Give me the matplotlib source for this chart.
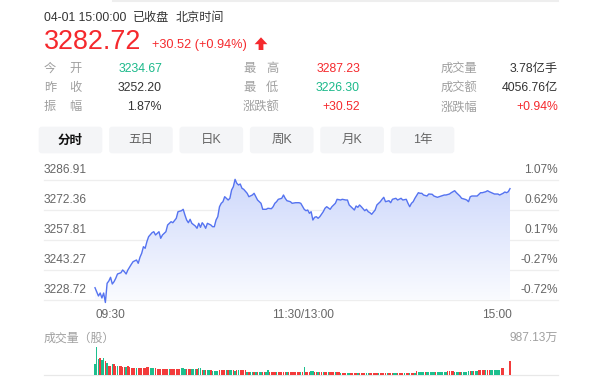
import matplotlib
matplotlib.use('Agg')
import matplotlib.pyplot as plt
import numpy as np
from matplotlib.patches import FancyBboxPatch, Polygon
from matplotlib.transforms import IdentityTransform

plt.rcParams['font.family'] = ['Liberation Sans', 'Noto Sans CJK SC', 'DejaVu Sans']

# ---------------- data ----------------
price_ticks = [3286.91, 3272.36, 3257.81, 3243.27, 3228.72]
pct_ticks = ['1.07%', '0.62%', '0.17%', '-0.27%', '-0.72%']
time_labels = ['09:30', '11:30/13:00', '15:00']
tabs = ['分时', '五日', '日K', '周K', '月K', '1年']

minute_idx = [0, 2, 3, 4, 5, 6, 7, 8, 9, 10, 11, 12, 13, 15, 16, 17, 18, 19, 21, 22,
              24, 25, 26, 27, 28, 29, 30, 31, 33, 34, 35, 37, 38, 39, 41, 42, 44, 45, 47, 48,
              50, 51, 52, 53, 54, 55, 56, 58, 59, 60, 61, 62, 63, 64, 65, 67, 68, 69, 70, 71,
              72, 73, 74, 75, 76, 77, 78, 79, 80, 81, 82, 83, 84, 85, 86, 88, 89, 91, 92, 93,
              94, 95, 96, 97, 99, 100, 102, 103, 104, 105, 106, 108, 109, 110, 111, 113, 114, 116, 118, 119,
              121, 122, 123, 124, 125, 126, 127, 128, 129, 130, 132, 133, 134, 136, 137, 139, 140, 142, 143, 145,
              146, 147, 148, 150, 151, 152, 153, 154, 156, 157, 158, 159, 160, 162, 163, 165, 166, 167, 168, 170,
              171, 172, 174, 175, 177, 178, 180, 181, 182, 183, 184, 185, 187, 188, 189, 190, 192, 193, 195, 196,
              198, 199, 200, 202, 203, 205, 206, 208, 209, 211, 212, 214, 215, 216, 217, 218, 220, 221, 223, 224,
              226, 227, 228, 230, 231, 233, 234, 236, 237, 238, 239, 240]
prices = [3234.67, 3230.66, 3232.11, 3229.69, 3232.11, 3227.50, 3236.82, 3237.93, 3239.73, 3236.48,
          3237.59, 3239.24, 3241.33, 3241.96, 3243.27, 3242.44, 3241.33, 3243.27, 3246.03, 3247.29,
          3248.12, 3246.52, 3249.43, 3251.37, 3254.57, 3253.79, 3256.99, 3259.42, 3261.36, 3261.84,
          3260.24, 3261.84, 3258.64, 3260.24, 3261.84, 3265.09, 3266.69, 3266.20, 3268.34, 3271.54,
          3272.02, 3272.70, 3269.94, 3267.51, 3266.20, 3267.85, 3265.91, 3264.60, 3263.49, 3265.91,
          3263.97, 3266.20, 3265.09, 3263.49, 3265.91, 3265.09, 3264.26, 3264.26, 3267.51, 3269.11,
          3273.96, 3275.61, 3276.39, 3278.81, 3278.04, 3277.21, 3278.04, 3282.06, 3283.66, 3287.23,
          3285.31, 3284.49, 3284.97, 3282.89, 3282.40, 3280.46, 3278.81, 3279.64, 3280.46, 3278.81,
          3277.21, 3276.39, 3275.61, 3272.70, 3272.70, 3273.19, 3272.99, 3273.96, 3275.61, 3276.39,
          3277.55, 3278.04, 3279.64, 3278.04, 3276.87, 3276.39, 3275.61, 3275.90, 3275.90, 3275.61,
          3272.70, 3272.02, 3272.36, 3270.76, 3271.54, 3267.51, 3268.82, 3269.11, 3268.34, 3269.11,
          3271.54, 3273.19, 3273.96, 3272.70, 3273.96, 3275.61, 3277.55, 3277.21, 3277.55, 3277.21,
          3277.21, 3274.79, 3273.96, 3272.36, 3274.30, 3273.67, 3274.79, 3273.96, 3272.02, 3272.70,
          3271.54, 3271.05, 3270.28, 3272.36, 3274.79, 3276.39, 3277.55, 3278.52, 3276.39, 3276.87,
          3275.90, 3277.55, 3278.04, 3277.21, 3278.04, 3277.21, 3277.55, 3275.61, 3273.96, 3275.61,
          3276.39, 3278.04, 3280.75, 3280.46, 3280.46, 3279.64, 3279.15, 3280.12, 3279.98, 3279.15,
          3278.52, 3278.81, 3279.15, 3279.64, 3279.64, 3280.12, 3280.75, 3281.72, 3280.75, 3279.15,
          3278.04, 3277.55, 3277.21, 3276.39, 3278.81, 3279.15, 3279.15, 3279.15, 3280.75, 3280.75,
          3281.24, 3281.72, 3281.24, 3280.46, 3280.12, 3280.12, 3279.64, 3280.46, 3281.09, 3280.75,
          3281.24, 3282.72]

# volume per minute (万股)
volume = [380, 987.13, 570, 590, 530, 590, 500, 415, 330, 320, 380, 380, 330, 330, 330, 300,
          296, 290, 280, 300, 270,
          240, 235, 237, 230, 240, 236, 230, 238, 235,
          273, 265,
          237, 240, 230, 235,
          215, 210, 205,
          200, 205, 198, 200, 202, 196, 200, 205, 199,
          215, 210,
          237, 230, 225,
          200, 198, 205,
          200, 195, 205, 198,
          237, 230,
          180, 175, 185, 178, 182, 176,
          142, 140, 145, 138,
          190, 185, 192, 180,
          165, 160, 170, 162, 168, 158, 165, 160,
          190, 185, 188, 180,
          118, 115, 120, 112, 118, 116, 110, 118, 114, 120, 112, 116,
          178,
          95, 98, 92, 96, 100, 94, 95, 90, 97, 93, 96, 92, 98, 95, 90, 94, 96, 92, 110,
          110,
          280,
          118, 115, 120,
          153, 150,
          95, 92, 97, 90, 95, 93, 96, 91, 94, 97, 92, 95, 90, 94, 96,
          84, 80, 86, 82, 85, 81, 83, 87, 80, 84, 82, 86, 83, 80, 85, 82, 84, 81, 86, 83,
          80, 84, 82, 85, 83, 81, 86, 82, 84, 80, 83, 85, 81, 84, 82, 86, 80, 83, 85, 82,
          84, 81, 83, 86,
          150,
          95, 92, 96, 94, 90, 95, 97, 93, 95, 91, 96, 94, 92, 95, 97, 93, 96,
          130, 128, 132, 126,
          118, 120, 115, 118, 122, 116, 119, 117,
          142, 140, 145, 138, 144, 140,
          166, 160, 168, 164, 170, 162, 166,
          178, 175, 180, 176, 182, 178,
          249, 240,
          0, 0, 0,
          498]
vol_dir = ('gggrggrgrrgrrgrr' + 'rrgrr' + 'rrrgrrrrr' + 'rr' + 'gggr' + 'rrr' + 'rrrrgrrrr' + 'rr'
           + 'ggg' + 'rrr' + 'gggr' + 'gg' + 'rgrggr' + 'gggg' + 'rrrr' + 'grggrgrg' + 'rrrr'
           + 'grggrgrggrrg' + 'g' + 'rrrrgrrrrrgrrrrrrrg' + 'r' + 'g' + 'rrr' + 'gg'
           + 'rrgrrgrrgrrrgrr' + 'grrrggrrrrgrrrrggrrr' + 'rrgrrrrgrrrggrrrrgrr' + 'grrg'
           + 'r' + 'ggggrgggggrgggggg' + 'rrrr' + 'gggrgggg' + 'grgrgg' + 'rrrrgrr' + 'gggggg'
           + 'rr' + 'rrr' + 'r')
vol_max_label = '987.13万'

# ---------------- figure ----------------
W, H = 600, 388
fig = plt.figure(figsize=(6, 3.88), dpi=100)
fig.patch.set_facecolor('white')

def fx(x):
    return x / W

def fy(y):
    return 1 - y / H

RED = '#f5292d'
GREEN = '#1bb98a'
DARK = '#333333'
GRAY = '#a0a0a0'
MID = '#666666'

# top thin line
fig.add_artist(plt.Line2D([fx(113), fx(558)], [fy(0.8), fy(0.8)], color='#eeeeee', lw=1.5))

# header
fig.text(fx(44), fy(20.7), '04-01 15:00:00', fontsize=8.7, color=DARK, va='baseline')
fig.text(fx(133), fy(20.7), '已收盘', fontsize=8.7, color=DARK, va='baseline')
fig.text(fx(176), fy(20.7), '北京时间', fontsize=8.7, color=DARK, va='baseline')

fig.text(fx(44), fy(49.3), '3282.72', fontsize=19.4, color=RED, va='baseline')
fig.text(fx(152), fy(48.3), '+30.52 (+0.94%)', fontsize=9.2, color=RED, va='baseline')

arrow = [(261, 37.3), (254.6, 44.2), (258.6, 44.2), (258.6, 50), (263.4, 50),
         (263.4, 44.2), (267.4, 44.2)]
fig.add_artist(Polygon([(x, H - y) for x, y in arrow], closed=True, facecolor=RED,
                       edgecolor='none', transform=IdentityTransform()))

# stats rows
rows_y = [71.6, 90.8, 110.2]
lab1 = [('今', '开'), ('昨', '收'), ('振', '幅')]
val1 = [('3234.67', GREEN), ('3252.20', DARK), ('1.87%', DARK)]
lab2 = [('最', '高'), ('最', '低')]
val2 = [('3287.23', RED), ('3226.30', GREEN), ('+30.52', RED)]
lab3 = ['成交量', '成交额', '涨跌幅']
val3 = [('3.78亿手', DARK), ('4056.76亿', DARK), ('+0.94%', RED)]
fs = 8.8
for i, y in enumerate(rows_y):
    a, b = lab1[i]
    fig.text(fx(44), fy(y), a, fontsize=fs, color=GRAY, va='baseline')
    fig.text(fx(69), fy(y), b, fontsize=fs, color=GRAY, va='baseline')
    fig.text(fx(162), fy(y), val1[i][0], fontsize=fs, color=val1[i][1], va='baseline', ha='right')
    if i < 2:
        a, b = lab2[i]
        fig.text(fx(243), fy(y), a, fontsize=fs, color=GRAY, va='baseline')
        fig.text(fx(266), fy(y), b, fontsize=fs, color=GRAY, va='baseline')
    else:
        fig.text(fx(243), fy(y), '涨跌额', fontsize=fs, color=GRAY, va='baseline')
    fig.text(fx(360), fy(y), val2[i][0], fontsize=fs, color=val2[i][1], va='baseline', ha='right')
    fig.text(fx(441), fy(y), lab3[i], fontsize=fs, color=GRAY, va='baseline')
    fig.text(fx(558), fy(y), val3[i][0], fontsize=fs, color=val3[i][1], va='baseline', ha='right')

# tabs
tab_x0 = 38.7
tab_w = 63.6
tab_step = 70.4
for i, tb in enumerate(tabs):
    x0 = tab_x0 + i * tab_step
    box = FancyBboxPatch((x0, H - 153.3), tab_w, 26.6, boxstyle='round,pad=0,rounding_size=3',
                         facecolor='#f4f5f7', edgecolor='none', transform=IdentityTransform())
    fig.add_artist(box)
    fig.text(fx(x0 + tab_w / 2), fy(140.3), tb, fontsize=9, ha='center', va='center',
             color='#111111' if i == 0 else '#666666', fontweight='bold' if i == 0 else 'normal')

# ---------------- price chart ----------------
px_per_min = (510 - 95) / 240
xlim = (-(95 - 44) / px_per_min, 240 + (558 - 510) / px_per_min)
ax = fig.add_axes([fx(44), fy(300), fx(558) - fx(44), fy(180) - fy(300)])
ax.set_xlim(*xlim)
ax.set_ylim(price_ticks[-1], price_ticks[0])
ax.axis('off')
for pv in price_ticks:
    ax.axhline(pv, color='#eeeeee', lw=0.9, zorder=0, clip_on=False)

t = np.array(minute_idx, dtype=float)
p = np.array(prices)
ybot = price_ticks[-1]
ytop = price_ticks[0]
verts = [(t[0], ybot)] + list(zip(t, p)) + [(t[-1], ybot)]
poly = Polygon(verts, closed=True, facecolor='none', edgecolor='none')
ax.add_patch(poly)
grad = np.linspace(0, 1, 256).reshape(-1, 1)
c_top = np.array([0.81, 0.85, 0.985])
c_bot = np.array([0.98, 0.985, 1.0])
img = c_top[None, None, :] * (1 - grad[:, :, None]) + c_bot[None, None, :] * grad[:, :, None]
im = ax.imshow(img, extent=[t[0], t[-1], ybot, ytop], aspect='auto',
               origin='upper', zorder=1, interpolation='bilinear')
im.set_clip_path(poly)
ax.set_xlim(*xlim)
ax.set_ylim(ybot, ytop)
ax.plot(t, p, color='#5573f0', lw=1.0, zorder=3, clip_on=False)

for i, pv in enumerate(price_ticks):
    ypx = 180 + i * 30 - 6.8
    fig.text(fx(44), fy(ypx), f'{pv:.2f}', fontsize=8.6, color=MID, va='baseline')
    fig.text(fx(558), fy(ypx), pct_ticks[i], fontsize=8.6, color=MID, va='baseline', ha='right')

fig.text(fx(96), fy(317.5), time_labels[0], fontsize=8.6, color=MID, va='baseline', ha='left')
fig.text(fx(302.5), fy(317.5), time_labels[1], fontsize=8.6, color=MID, va='baseline', ha='center')
fig.text(fx(512), fy(317.5), time_labels[2], fontsize=8.6, color=MID, va='baseline', ha='right')

# ---------------- volume chart ----------------
fig.text(fx(44), fy(341.5), '成交量（股）', fontsize=8.6, color=GRAY, va='baseline')
fig.text(fx(558), fy(340.8), vol_max_label, fontsize=8.6, color=GRAY, va='baseline', ha='right')

ax2 = fig.add_axes([fx(44), fy(375), fx(558) - fx(44), fy(347) - fy(375)])
ax2.set_xlim(*xlim)
ax2.set_ylim(0, 987.13)
ax2.axis('off')
ax2.axhline(0, color='#e8e8e8', lw=0.9, clip_on=False, zorder=0)
colors = ['#f23b3b' if c == 'r' else '#1dbf8e' for c in vol_dir]
ax2.bar(np.arange(len(volume)), volume, width=0.8, color=colors, linewidth=0, zorder=2)

fig.savefig('out.png', dpi=100, facecolor='white')
